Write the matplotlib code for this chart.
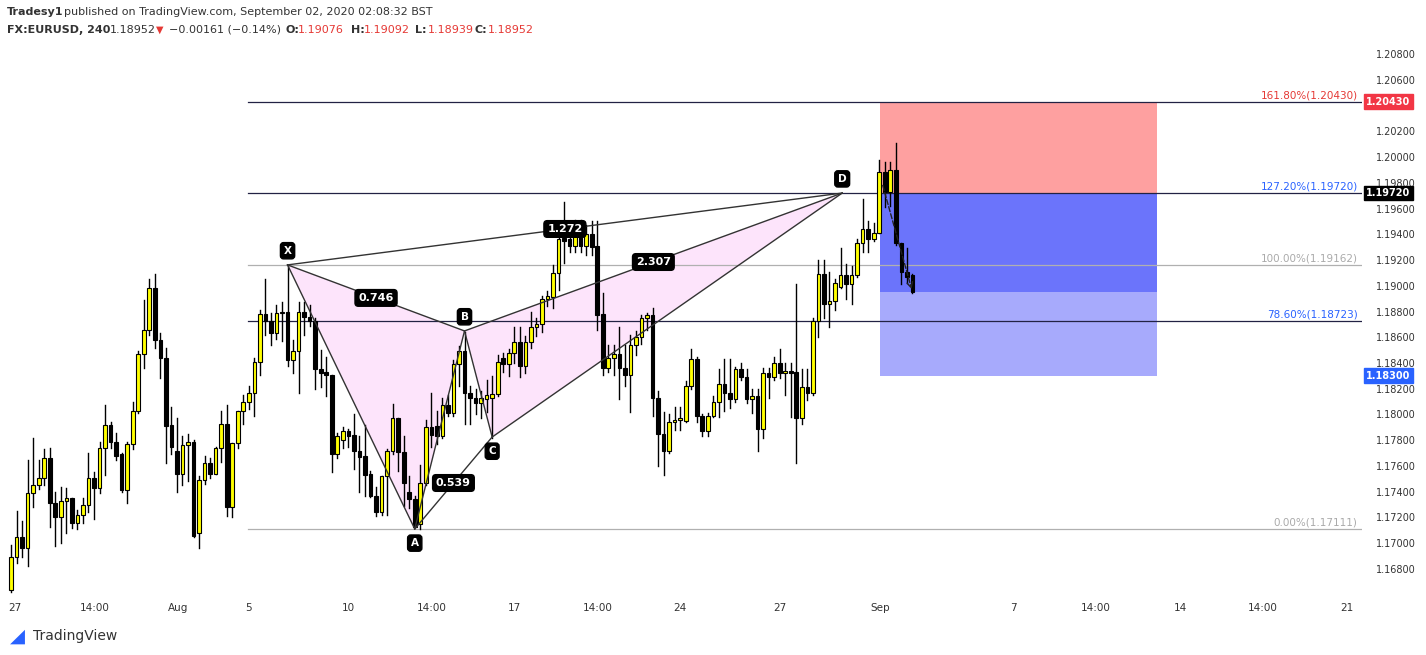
import matplotlib.pyplot as plt
from matplotlib.patches import Rectangle, Polygon

# 4h EURUSD candles, 27 Jul - 2 Sep 2020
opens = [1.1664, 1.1689, 1.1705, 1.1696, 1.1739, 1.1745, 1.1751, 1.1766, 1.1731, 1.1720,
         1.1733, 1.1735, 1.1716, 1.1722, 1.1730, 1.1751, 1.1743, 1.1774, 1.1792, 1.1779,
         1.1769, 1.1741, 1.1777, 1.1803, 1.1847, 1.1866, 1.1898, 1.1858, 1.1844, 1.1792,
         1.1772, 1.1754, 1.1776, 1.1779, 1.1708, 1.1749, 1.1762, 1.1754, 1.1774, 1.1793,
         1.1728, 1.1778, 1.1803, 1.1810, 1.1817, 1.1841, 1.1878, 1.1873, 1.1863, 1.1879,
         1.1880, 1.1842, 1.1849, 1.1880, 1.1876, 1.1873, 1.1835, 1.1833, 1.1831, 1.1769,
         1.1780, 1.1787, 1.1784, 1.1772, 1.1768, 1.1754, 1.1737, 1.1724, 1.1752, 1.1772,
         1.1797, 1.1771, 1.1740, 1.1734, 1.1715, 1.1747, 1.1790, 1.1791, 1.1783, 1.1807,
         1.1801, 1.1839, 1.1849, 1.1817, 1.1813, 1.1809, 1.1812, 1.1813, 1.1816, 1.1844,
         1.1839, 1.1848, 1.1856, 1.1838, 1.1856, 1.1868, 1.1870, 1.1890, 1.1891, 1.1910,
         1.1937, 1.1936, 1.1931, 1.1946, 1.1931, 1.1940, 1.1931, 1.1878, 1.1836, 1.1844,
         1.1847, 1.1836, 1.1831, 1.1854, 1.1860, 1.1875, 1.1877, 1.1813, 1.1785, 1.1772,
         1.1794, 1.1796, 1.1795, 1.1822, 1.1843, 1.1799, 1.1787, 1.1799, 1.1810, 1.1824,
         1.1817, 1.1812, 1.1835, 1.1829, 1.1812, 1.1814, 1.1789, 1.1832, 1.1829, 1.1840,
         1.1832, 1.1834, 1.1833, 1.1797, 1.1821, 1.1817, 1.1873, 1.1909, 1.1886, 1.1888,
         1.1899, 1.1908, 1.1901, 1.1908, 1.1933, 1.1944, 1.1936, 1.1941, 1.1988, 1.1973,
         1.1990, 1.1933, 1.1911, 1.1908]
closes = [1.1689, 1.1705, 1.1696, 1.1739, 1.1745, 1.1751, 1.1766, 1.1731, 1.1720, 1.1733,
          1.1735, 1.1716, 1.1722, 1.1730, 1.1751, 1.1743, 1.1774, 1.1792, 1.1779, 1.1768,
          1.1741, 1.1777, 1.1803, 1.1847, 1.1866, 1.1898, 1.1858, 1.1844, 1.1791, 1.1775,
          1.1754, 1.1776, 1.1779, 1.1706, 1.1749, 1.1762, 1.1754, 1.1774, 1.1793, 1.1728,
          1.1778, 1.1803, 1.1810, 1.1817, 1.1841, 1.1878, 1.1873, 1.1863, 1.1879, 1.1880,
          1.1842, 1.1849, 1.1880, 1.1876, 1.1873, 1.1835, 1.1832, 1.1831, 1.1769, 1.1783,
          1.1787, 1.1783, 1.1772, 1.1767, 1.1753, 1.1737, 1.1724, 1.1752, 1.1772, 1.1797,
          1.1771, 1.1747, 1.1734, 1.1713, 1.1747, 1.1790, 1.1784, 1.1783, 1.1807, 1.1801,
          1.1839, 1.1849, 1.1817, 1.1813, 1.1809, 1.1813, 1.1815, 1.1816, 1.1841, 1.1839,
          1.1848, 1.1856, 1.1838, 1.1856, 1.1868, 1.1870, 1.1890, 1.1892, 1.1910, 1.1936,
          1.1935, 1.1931, 1.1946, 1.1931, 1.1940, 1.1930, 1.1877, 1.1836, 1.1844, 1.1847,
          1.1836, 1.1831, 1.1854, 1.1860, 1.1875, 1.1877, 1.1813, 1.1785, 1.1772, 1.1794,
          1.1796, 1.1797, 1.1822, 1.1843, 1.1799, 1.1787, 1.1799, 1.1810, 1.1824, 1.1817,
          1.1812, 1.1835, 1.1829, 1.1812, 1.1814, 1.1789, 1.1832, 1.1829, 1.1840, 1.1832,
          1.1834, 1.1832, 1.1797, 1.1821, 1.1817, 1.1873, 1.1909, 1.1886, 1.1888, 1.1902,
          1.1908, 1.1901, 1.1908, 1.1933, 1.1944, 1.1936, 1.1941, 1.1988, 1.1973, 1.1990,
          1.1933, 1.1911, 1.1907, 1.1895]
highs = [1.1699, 1.1725, 1.1717, 1.1765, 1.1782, 1.1765, 1.1773, 1.1774, 1.1740, 1.1744,
         1.1743, 1.1735, 1.1726, 1.1735, 1.1770, 1.1755, 1.1779, 1.1807, 1.1794, 1.1786,
         1.1770, 1.1779, 1.1810, 1.1849, 1.1889, 1.1905, 1.1909, 1.1863, 1.1852, 1.1806,
         1.1797, 1.1783, 1.1785, 1.1780, 1.1752, 1.1768, 1.1766, 1.1775, 1.1803, 1.1807,
         1.1778, 1.1803, 1.1815, 1.1822, 1.1844, 1.1881, 1.1905, 1.1879, 1.1885, 1.1887,
         1.1916, 1.1858, 1.1887, 1.1887, 1.1885, 1.1875, 1.1850, 1.1845, 1.1831, 1.1786,
         1.1790, 1.1789, 1.1800, 1.1783, 1.1792, 1.1756, 1.1744, 1.1752, 1.1773, 1.1808,
         1.1797, 1.1783, 1.1752, 1.1737, 1.1761, 1.1796, 1.1817, 1.1803, 1.1813, 1.1815,
         1.1842, 1.1853, 1.1864, 1.1822, 1.1820, 1.1818, 1.1827, 1.1830, 1.1846, 1.1848,
         1.1851, 1.1868, 1.1868, 1.1861, 1.1880, 1.1875, 1.1892, 1.1896, 1.1916, 1.1949,
         1.1965, 1.1948, 1.1951, 1.1951, 1.1947, 1.1950, 1.1950, 1.1894, 1.1854, 1.1854,
         1.1868, 1.1854, 1.1862, 1.1865, 1.1877, 1.1879, 1.1883, 1.1818, 1.1802, 1.1800,
         1.1806, 1.1806, 1.1826, 1.1851, 1.1845, 1.1800, 1.1801, 1.1814, 1.1835, 1.1843,
         1.1843, 1.1837, 1.1840, 1.1835, 1.1820, 1.1820, 1.1836, 1.1836, 1.1845, 1.1851,
         1.1840, 1.1840, 1.1901, 1.1835, 1.1835, 1.1875, 1.1920, 1.1920, 1.1911, 1.1905,
         1.1929, 1.1917, 1.1915, 1.1936, 1.1967, 1.1950, 1.1949, 1.1998, 1.1996, 1.1996,
         1.2011, 1.1933, 1.1929, 1.1909]
lows = [1.1662, 1.1685, 1.1689, 1.1682, 1.1728, 1.1742, 1.1745, 1.1713, 1.1698, 1.1700,
        1.1708, 1.1712, 1.1711, 1.1716, 1.1724, 1.1719, 1.1739, 1.1753, 1.1774, 1.1765,
        1.1740, 1.1731, 1.1773, 1.1801, 1.1836, 1.1862, 1.1852, 1.1828, 1.1762, 1.1769,
        1.1740, 1.1745, 1.1748, 1.1705, 1.1696, 1.1746, 1.1751, 1.1754, 1.1763, 1.1721,
        1.1720, 1.1774, 1.1793, 1.1804, 1.1799, 1.1831, 1.1862, 1.1854, 1.1859, 1.1857,
        1.1838, 1.1832, 1.1817, 1.1862, 1.1869, 1.1820, 1.1821, 1.1814, 1.1755, 1.1766,
        1.1774, 1.1775, 1.1758, 1.1740, 1.1737, 1.1736, 1.1721, 1.1722, 1.1722, 1.1769,
        1.1756, 1.1729, 1.1727, 1.1713, 1.1711, 1.1745, 1.1775, 1.1777, 1.1782, 1.1799,
        1.1799, 1.1822, 1.1793, 1.1793, 1.1800, 1.1797, 1.1802, 1.1782, 1.1814, 1.1833,
        1.1830, 1.1840, 1.1829, 1.1832, 1.1852, 1.1861, 1.1864, 1.1884, 1.1883, 1.1897,
        1.1918, 1.1926, 1.1926, 1.1926, 1.1924, 1.1924, 1.1866, 1.1831, 1.1833, 1.1831,
        1.1812, 1.1822, 1.1802, 1.1846, 1.1855, 1.1866, 1.1799, 1.1760, 1.1753, 1.1770,
        1.1788, 1.1788, 1.1794, 1.1820, 1.1794, 1.1783, 1.1783, 1.1798, 1.1798, 1.1803,
        1.1805, 1.1810, 1.1827, 1.1809, 1.1801, 1.1772, 1.1782, 1.1813, 1.1827, 1.1828,
        1.1815, 1.1798, 1.1762, 1.1793, 1.1811, 1.1815, 1.1860, 1.1875, 1.1868, 1.1881,
        1.1898, 1.1890, 1.1886, 1.1907, 1.1926, 1.1926, 1.1935, 1.1941, 1.1961, 1.1962,
        1.1932, 1.1901, 1.1902, 1.1894]

# XABCD pattern points: (candle index, price)
pattern_names = ["X", "A", "B", "C", "D"]
pattern_idx = [50, 73, 82, 87, 150.3]
pattern_px = [1.19162, 1.17111, 1.18649, 1.17825, 1.19720]
ratio_labels = ["0.746", "0.539", "1.272", "2.307"]

fib_levels = [1.20430, 1.19720, 1.19162, 1.18723, 1.17111]
fib_texts = ["161.80%(1.20430)", "127.20%(1.19720)", "100.00%(1.19162)",
             "78.60%(1.18723)", "0.00%(1.17111)"]
fib_colors = ["#e53935", "#2962ff", "#aaaaaa", "#2962ff", "#aaaaaa"]
fib_line_colors = ["#222244", "#222244", "#b0b0b0", "#222244", "#b0b0b0"]

stop, entry, current, target = 1.20430, 1.19720, 1.18952, 1.18300
price_ticks = [1.1680, 1.1700, 1.1720, 1.1740, 1.1760, 1.1780, 1.1800, 1.1820, 1.1840, 1.1860,
               1.1880, 1.1900, 1.1920, 1.1940, 1.1960, 1.1980, 1.2000, 1.2020, 1.2060, 1.2080]
xtick_pos = [0.7, 15.2, 30.2, 42.9, 61, 76.1, 91, 106.1, 121, 139, 157.1, 181.2, 196.2, 211.4, 226.4, 241.6]
xtick_lab = ["27", "14:00", "Aug", "5", "10", "14:00", "17", "14:00", "24", "27", "Sep", "7", "14:00", "14", "14:00", "21"]

W, H = 1426, 655
fig = plt.figure(figsize=(W / 100, H / 100), dpi=100)
ax = fig.add_axes([0, 1 - 595 / H, 1362 / W, 550 / H])
ax.set_xlim(-2, 244.3)
ax.set_ylim(1.16598, 1.20870)
for s in ax.spines.values():
    s.set_visible(False)

# candles
n = len(opens)
for i in range(n):
    o, c, h, l = opens[i], closes[i], highs[i], lows[i]
    ax.plot([i, i], [l, h], color="black", lw=1, zorder=3)
    up = c >= o
    ax.add_patch(Rectangle((i - 0.33, min(o, c)), 0.66, max(abs(c - o), 0.00005),
                           facecolor="#ffff00" if up else "black", edgecolor="black",
                           lw=0.8, zorder=4))

# fib lines + texts
for lv, t, tc, lc in zip(fib_levels, fib_texts, fib_colors, fib_line_colors):
    ax.plot([42.9, 244.3], [lv, lv], color=lc, lw=0.9, zorder=2)
    ax.text(243.5, lv + 0.00012, t, color=tc, fontsize=7.5, ha="right", va="bottom", zorder=6)

# position box
x0, x1 = 157.2, 207.3
ax.add_patch(Rectangle((x0, entry), x1 - x0, stop - entry, color="#fea0a0", lw=0, zorder=1))
ax.add_patch(Rectangle((x0, current), x1 - x0, entry - current, color="#6b74fb", lw=0, zorder=1))
ax.add_patch(Rectangle((x0, target), x1 - x0, current - target, color="#a7aafc", lw=0, zorder=1))
ax.annotate("", xy=(163, current), xytext=(157.5, 1.1980),
            arrowprops=dict(arrowstyle="->", ls="--", color="#222", lw=1), zorder=7)

# pattern
P = dict(zip(pattern_names, zip(pattern_idx, pattern_px)))
ax.add_patch(Polygon([P["X"], P["A"], P["B"]], closed=True, facecolor="#fde4fb", edgecolor="none", zorder=1))
ax.add_patch(Polygon([P["B"], P["C"], P["D"]], closed=True, facecolor="#fde4fb", edgecolor="none", zorder=1))
for a, b in [("X", "A"), ("A", "B"), ("B", "C"), ("C", "D"), ("X", "B"), ("B", "D"), ("A", "C"), ("X", "D")]:
    ax.plot([P[a][0], P[b][0]], [P[a][1], P[b][1]], color="#333333", lw=1, zorder=5)

box = dict(boxstyle="round,pad=0.3", fc="black", ec="black")
label_off = {"X": 0.0011, "A": -0.0011, "B": 0.0011, "C": -0.0011, "D": 0.0011}
for nm in pattern_names:
    ax.text(P[nm][0], P[nm][1] + label_off[nm], nm, color="white", fontsize=7.5, weight="bold",
            ha="center", va="center", bbox=box, zorder=8)
for (a_nm, b_nm), lab in zip([("X", "B"), ("A", "C"), ("X", "D"), ("B", "D")], ratio_labels):
    a, b = P[a_nm], P[b_nm]
    ax.text((a[0] + b[0]) / 2, (a[1] + b[1]) / 2, lab, color="white", fontsize=8,
            weight="bold", ha="center", va="center", bbox=box, zorder=8)

# axes
ax.set_xticks(xtick_pos)
ax.set_xticklabels(xtick_lab, fontsize=7.5, color="#333333")
ax.tick_params(axis="x", length=0, pad=6)
ax.yaxis.tick_right()
ax.set_yticks(price_ticks)
ax.set_yticklabels([f"{v:.5f}" for v in price_ticks], fontsize=7, color="#333333")
ax.tick_params(axis="y", length=0, pad=10)
for lv, fc in [(stop, "#f23645"), (entry, "black"), (target, "#2962ff")]:
    ax.text(1.003, lv, f"{lv:.5f}", transform=ax.get_yaxis_transform(), fontsize=7, color="white",
            weight="bold", va="center", ha="left", zorder=9,
            bbox=dict(boxstyle="square,pad=0.25", fc=fc, ec=fc))

# header
fs = 8
fig.text(7 / W, 1 - 12 / H, "Tradesy1", fontsize=fs, weight="bold", color="#333333", va="center")
fig.text(64 / W, 1 - 12 / H, "published on TradingView.com, September 02, 2020 02:08:32 BST",
         fontsize=fs, color="#333333", va="center")
fig.text(7 / W, 1 - 30 / H, "FX:EURUSD, 240", fontsize=fs, weight="bold", color="#333333", va="center")
fig.text(110 / W, 1 - 30 / H, "1.18952", fontsize=fs, color="#333333", va="center")
fig.text(156 / W, 1 - 30 / H, "\u25bc", fontsize=7, color="#e53935", va="center")
fig.text(169 / W, 1 - 30 / H, "\u22120.00161 (\u22120.14%)", fontsize=fs, color="#333333", va="center")
hdr = [("O:", "1.19076", 285), ("H:", "1.19092", 351), ("L:", "1.18939", 415), ("C:", "1.18952", 475)]
for k, v, xp in hdr:
    fig.text(xp / W, 1 - 30 / H, k, fontsize=fs, weight="bold", color="#333333", va="center")
    fig.text((xp + 13) / W, 1 - 30 / H, v, fontsize=fs, color="#e53935", va="center")
fig.text(33 / W, 1 - 636 / H, "TradingView", fontsize=10, color="#333333", va="center")
fig.text(10 / W, 1 - 636 / H, "\u25e2", fontsize=14, color="#2962ff", va="center")

fig.savefig("out.png", dpi=100)
